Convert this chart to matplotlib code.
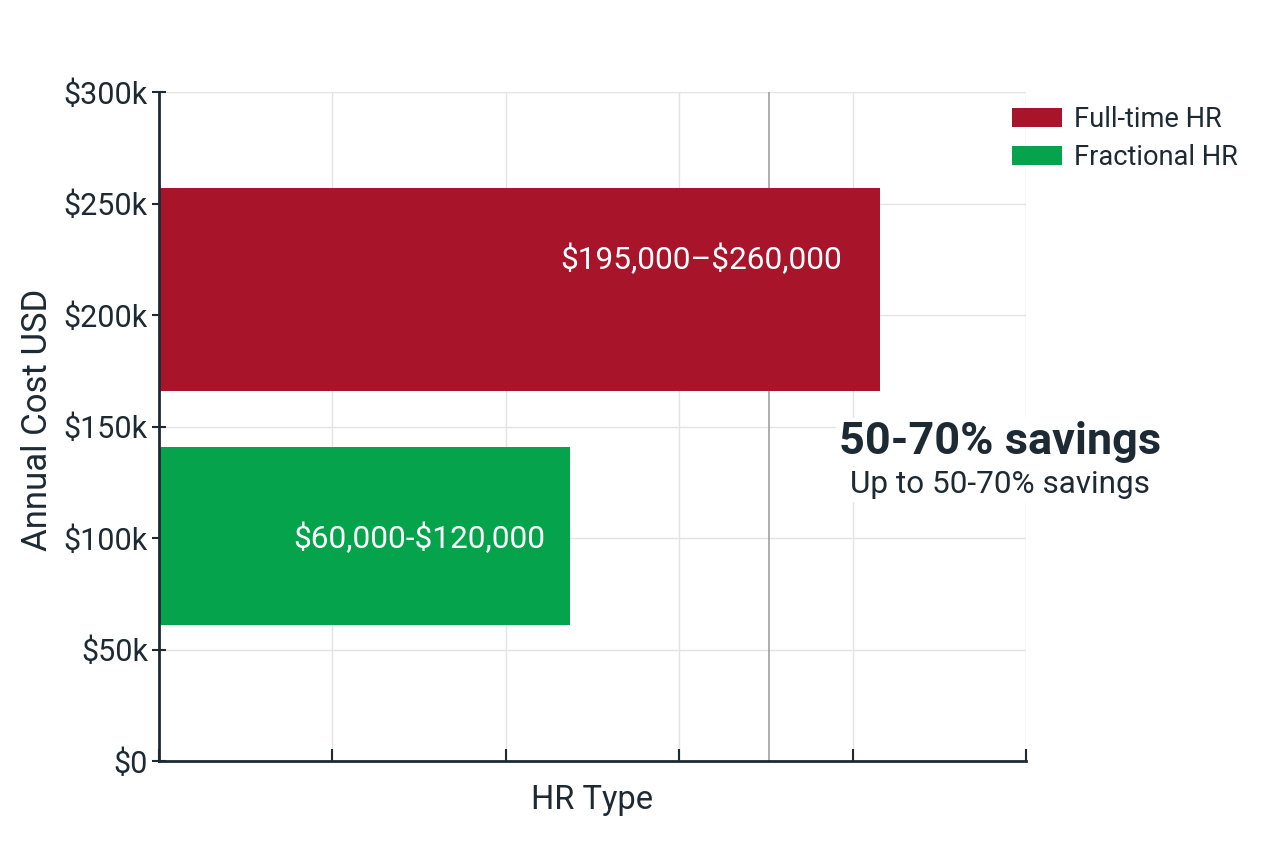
import matplotlib
matplotlib.use("Agg")
import matplotlib.pyplot as plt
from matplotlib.ticker import FuncFormatter

plt.rcParams['font.family'] = ['Roboto', 'DejaVu Sans']

categories = ["Full-time HR", "Fractional HR"]
bar_lengths = [4.16, 2.37]
range_low = [166000, 61000]
range_high = [257000, 141000]
range_labels = ["$195,000–$260,000", "$60,000-$120,000"]
colors = ["#A8142A", "#05A34C"]
y_ticks = [0, 50000, 100000, 150000, 200000, 250000, 300000]
x_ticks = [0, 1, 2, 3, 4, 5]
savings_title = "50-70% savings"
savings_sub = "Up to 50-70% savings"
savings_line_x = 3.52

text_color = "#1e2a33"

fig = plt.figure(figsize=(12.64, 8.48), dpi=100)
ax = fig.add_axes([159/1264, 1-761/848, (1026-159)/1264, (761-92)/848])

ax.set_xlim(0, 5)
ax.set_ylim(0, 300000)
ax.set_xticks(x_ticks)
ax.set_xticklabels([])
ax.set_yticks(y_ticks)
ax.yaxis.set_major_formatter(FuncFormatter(lambda v, p: r"\$0" if v == 0 else rf"\${int(v/1000)}k"))
ax.grid(True, color="#e3e3e3", lw=1)
ax.set_axisbelow(True)

for name, L, lo, hi, c in zip(categories, bar_lengths, range_low, range_high, colors):
    ax.bar(0, hi - lo, width=L, bottom=lo, align='edge', color=c, label=name, zorder=2)

ax.axvline(savings_line_x, color="#a0a0a0", lw=1.2, zorder=1)

# bar labels
label_pos = [(3.94, 225000), (2.23, 100000)]
for (x, y), t in zip(label_pos, range_labels):
    ax.text(x, y, t, ha='right', va='center', color='white', fontsize=22.8, zorder=3,
            parse_math=False)

ax.text(4.85, 143000, savings_title, ha='center', va='center', fontsize=32.5, fontweight='bold',
        color=text_color, clip_on=False, zorder=4,
        bbox=dict(facecolor='white', edgecolor='none', pad=2))
ax.text(4.85, 124000, savings_sub, ha='center', va='center', fontsize=22.7,
        color=text_color, clip_on=False, zorder=4,
        bbox=dict(facecolor='white', edgecolor='none', pad=2))

for s in ['top', 'right']:
    ax.spines[s].set_visible(False)
for s in ['left', 'bottom']:
    ax.spines[s].set_color(text_color)
    ax.spines[s].set_linewidth(2)
ax.tick_params(axis='x', direction='in', length=9, width=1.5, color=text_color)
ax.tick_params(axis='y', direction='inout', length=10, width=1.5, color=text_color,
               labelsize=22, labelcolor=text_color, pad=3)

ax.set_ylabel("Annual Cost USD", fontsize=25, color=text_color)
ax.yaxis.set_label_coords(-0.1215, 0.51)
ax.set_xlabel("HR Type", fontsize=23.5, color=text_color, labelpad=13)

leg = ax.legend(loc='upper left', bbox_to_anchor=(1012/1264, 1-106/848), bbox_transform=fig.transFigure,
                frameon=False, fontsize=19.6, handlelength=1.85, handleheight=0.72,
                labelspacing=0.4, handletextpad=0.42, borderpad=0, borderaxespad=0,
                labelcolor=text_color)

fig.savefig("out.png", dpi=100, facecolor='white')
